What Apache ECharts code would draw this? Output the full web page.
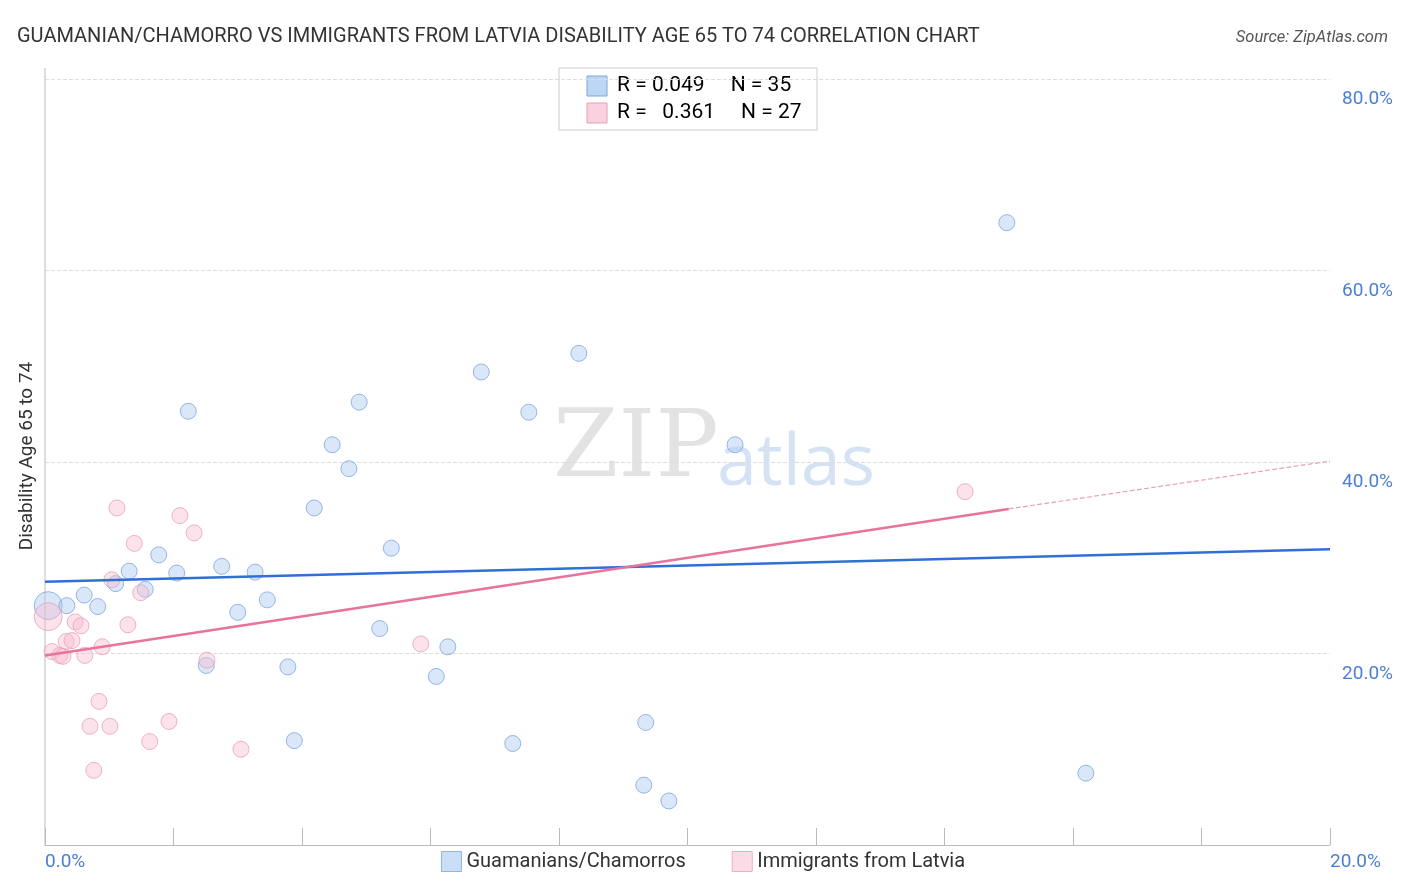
<!DOCTYPE html>
<html><head><meta charset="utf-8">
<script src="https://cdn.jsdelivr.net/npm/echarts@6/dist/echarts.min.js"></script>
<style>html,body{margin:0;padding:0;background:#fff}#c{width:1406px;height:892px}</style>
</head><body><div id="c"></div>
<script>
const blueX=[0.05,0.34,0.61,0.82,1.10,1.31,1.56,1.77,2.05,2.23,2.51,2.75,3.00,3.27,3.46,3.78,3.88,4.19,4.47,4.73,4.89,5.21,5.39,6.09,6.27,6.79,7.28,7.53,8.31,9.32,9.35,9.71,10.74,14.97,16.20];
const blueY=[25.0,25.0,26.1,24.9,27.3,28.6,26.7,30.3,28.4,45.3,18.75,29.1,24.3,28.5,25.6,18.6,10.9,35.2,41.8,39.3,46.25,22.6,31.0,17.6,20.7,49.4,10.6,45.2,51.35,6.25,12.8,4.6,41.8,65.0,7.5];
const pinkX=[0.05,0.11,0.23,0.28,0.33,0.42,0.47,0.56,0.62,0.70,0.76,0.84,0.89,1.01,1.04,1.12,1.29,1.39,1.49,1.63,1.93,2.10,2.32,2.52,3.05,5.85,14.32];
const pinkY=[23.85,20.2,19.8,19.7,21.25,21.35,23.3,22.9,19.8,12.4,7.8,15.0,20.7,12.4,27.7,35.2,23.0,31.5,26.35,10.8,12.9,34.4,32.6,19.3,10.0,21.0,36.9];
const blueTrend=[[0,27.5],[20,30.9]];
const pinkTrend=[[0,19.8],[15.0,35.1]];
const pinkDash=[[15.0,35.1],[20,40.1]];
const chart=echarts.init(document.getElementById('c'));
const pts=(xs,ys)=>xs.map((x,i)=>({value:[x,ys[i]],symbolSize:i===0?28:16}));
const F='Roboto, "Noto Sans", sans-serif';
chart.setOption({
  animation:false,
  textStyle:{fontFamily:F},
  title:[{text:'GUAMANIAN/CHAMORRO VS IMMIGRANTS FROM LATVIA DISABILITY AGE 65 TO 74 CORRELATION CHART',left:12,top:22,textStyle:{fontSize:20,fontWeight:'normal',color:'#333'}},
         {text:'Source: ZipAtlas.com',right:13,top:24,textStyle:{fontSize:16.5,fontStyle:'italic',fontWeight:'normal',color:'#555'}}],
  grid:{left:45,right:76,top:79,bottom:47,containLabel:false,outerBoundsMode:'none'},
  xAxis:{type:'value',min:0,max:20,interval:2,
    axisLine:{show:true,lineStyle:{color:'#bbb'}},
    axisTick:{show:true,inside:true,length:17,lineStyle:{color:'#bbb'}},
    splitLine:{show:false},
    axisLabel:{color:'#4a7fd4',fontSize:19,margin:8,formatter:v=>v===0?'0.0%':(v===20?'20.0%':''),
      alignMinLabel:'left',alignMaxLabel:'left'}},
  yAxis:{type:'value',min:0,max:80,interval:20,position:'right',
    axisLine:{show:false},axisTick:{show:false},
    splitLine:{show:true,lineStyle:{color:'#ddd',type:'dashed'}},
    axisLabel:{color:'#4a7fd4',fontSize:19,margin:63,align:'right',verticalAlign:'top',padding:[11,0,0,0],
      formatter:v=>v===0?'':v.toFixed(1)+'%'}},
  legend:{bottom:15,left:'center',itemGap:46,itemWidth:20,itemHeight:20,
    textStyle:{fontSize:20,color:'#333'},
    data:[{name:'Guamanians/Chamorros',icon:'rect',itemStyle:{color:'rgba(160,196,240,0.7)',borderColor:'#7aa6e0',borderWidth:1}},
          {name:'Immigrants from Latvia',icon:'rect',itemStyle:{color:'rgba(248,190,210,0.7)',borderColor:'#e8a0ba',borderWidth:1}}]},
  graphic:[
    {type:'line',shape:{x1:45,y1:68,x2:45,y2:845},style:{stroke:'#bbb',lineWidth:1}},
    {type:'text',x:27,y:456,rotation:Math.PI/2,style:{text:'Disability Age 65 to 74',font:'19px '+F,fill:'#333',align:'center',verticalAlign:'middle'}},
    {type:'rect',shape:{x:559,y:68,width:258,height:62},style:{fill:'#fff',stroke:'#ccc'}},
    {type:'rect',shape:{x:587,y:76,width:20,height:20},style:{fill:'rgba(160,196,240,0.7)',stroke:'#7aa6e0'}},
    {type:'rect',shape:{x:587,y:103,width:20,height:20},style:{fill:'rgba(248,190,210,0.7)',stroke:'#e8a0ba'}},
    {type:'text',left:617,top:75,style:{text:'{k|R = }{v|0.049}{k|     N = }{v|35}',rich:{k:{fontSize:21,color:'#333',fontFamily:F},v:{fontSize:21,color:'#3a74d0',fontFamily:F}}}},
    {type:'text',left:617,top:102,style:{text:'{k|R =  }{v| 0.361}{k|     N = }{v|27}',rich:{k:{fontSize:21,color:'#333',fontFamily:F},v:{fontSize:21,color:'#3a74d0',fontFamily:F}}}},
    {type:'text',left:553,top:405,z:-1,style:{text:'ZIP',font:'94px "DejaVu Serif", serif',fill:'rgba(200,200,200,0.5)'}},
    {type:'text',left:717,top:428,z:-1,style:{text:'atlas',font:'72px "Open Sans", sans-serif',fill:'rgba(160,190,230,0.45)'}}
  ],
  series:[
    {name:'Guamanians/Chamorros',type:'scatter',data:pts(blueX,blueY),
      itemStyle:{color:'rgba(170,200,242,0.55)',borderColor:'#7aa6e0',borderWidth:1}},
    {name:'Immigrants from Latvia',type:'scatter',data:pts(pinkX,pinkY),
      itemStyle:{color:'rgba(248,190,210,0.55)',borderColor:'#e8a0ba',borderWidth:1}},
    {type:'line',data:blueTrend,symbol:'none',lineStyle:{color:'#2f6fd6',width:2.5},silent:true},
    {type:'line',data:pinkTrend,symbol:'none',lineStyle:{color:'#e8739c',width:2.5},silent:true},
    {type:'line',data:pinkDash,symbol:'none',lineStyle:{color:'#e8a0ba',width:1.2,type:'dashed'},silent:true}
  ]
});
</script></body></html>
